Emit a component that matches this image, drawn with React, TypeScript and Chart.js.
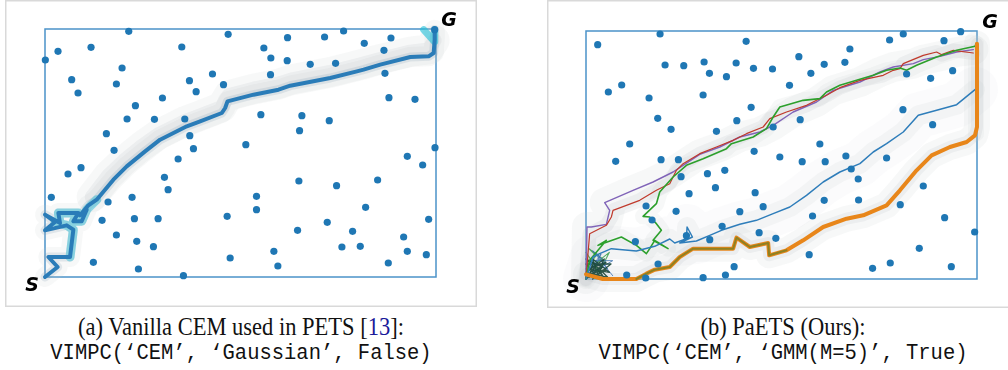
import React, { useEffect, useRef } from "react";
import { Chart, registerables } from "chart.js";

Chart.register(...registerables);

type P = [number, number];

// Environment extent (arbitrary planning units)
const ENV_X_MAX = 117.2;
const ENV_Y_MAX = 74.4;

// ---------- Panel (a): Vanilla CEM ----------
const obstaclesA: P[] = [
  [25.1, 73.7], [54.9, 72.8], [72.7, 71.8], [83.8, 72.0], [89.5, 73.8], [103.7, 71.7], [95.7, 70.1],
  [101.6, 68.0], [116.8, 74.2], [3.9, 67.7], [0.1, 65.1], [13.8, 68.9], [41.0, 69.0], [65.6, 68.7],
  [67.7, 65.7], [72.6, 64.9], [79.5, 63.8], [87.1, 64.1], [23.1, 62.7], [8.0, 59.2], [9.9, 55.2],
  [21.4, 57.9], [43.3, 58.9], [50.2, 60.9], [45.3, 55.6], [53.5, 57.7], [67.6, 60.7], [101.9, 61.1],
  [35.2, 53.7], [27.1, 51.4], [103.1, 53.8], [110.9, 53.3], [24.6, 47.4], [32.8, 47.3], [41.9, 47.4],
  [64.7, 48.7], [77.0, 48.4], [85.2, 46.9], [76.3, 43.9], [18.4, 43.0], [43.4, 42.4], [20.7, 38.0],
  [44.5, 38.5], [60.2, 39.7], [39.9, 35.4], [116.9, 38.8], [108.6, 36.2], [113.2, 33.6], [10.8, 32.8],
  [6.9, 30.9], [35.8, 29.9], [36.9, 26.2], [76.1, 28.8], [87.4, 27.4], [99.7, 29.1], [1.9, 23.9],
  [18.9, 22.5], [26.1, 23.9], [63.4, 24.2], [63.4, 20.2], [96.1, 20.9], [17.1, 17.0], [26.8, 17.5],
  [33.9, 17.5], [54.6, 18.2], [115.0, 17.3], [75.7, 14.0], [84.6, 16.4], [92.2, 13.7], [21.4, 12.6],
  [27.5, 10.7], [32.5, 9.1], [107.5, 12.0], [89.0, 9.0], [94.5, 9.2], [108.6, 7.7], [68.6, 7.7],
  [55.5, 5.7], [14.5, 4.4], [114.3, 6.7], [102.9, 4.2], [69.8, 3.3], [28.0, 2.4], [41.5, 0.4],
];

const cemPathA: P[] = [
  [0, 0], [3.8, 3.0], [1.0, 6.0], [7.5, 6.0], [8.5, 14.2], [6.5, 15.5], [0, 14.0], [3.0, 16.5],
  [0, 18.7], [4.5, 16.2], [4.0, 19.2], [10, 19.2], [8.5, 16.7], [11, 16.7], [12.5, 20.2], [10.5, 18.5],
  [13, 21.5], [15.5, 23.2], [20.5, 29.2], [24.5, 33.2], [30, 37.7], [34.5, 41.2], [42.5, 45.2],
  [46.5, 46.7], [53, 49.2], [54, 50.7], [54.7, 52.7], [62.5, 54.7], [70, 56.2], [73.5, 57.4],
  [85.5, 59.7], [93.5, 61.7], [95.5, 62.2], [100.5, 63.7], [109.5, 66.0], [115, 66.2], [116.5, 67.2],
  [116.8, 71.2], [116.8, 74.2],
];

// sampled-trajectory fog, sitting slightly above the executed path
const cemFogA: P[] = [
  [14, 24], [19, 30.5], [23.5, 34.8], [29, 39.3], [34, 42.8], [42, 46.8], [46, 48.3], [53, 51],
  [55, 54.5], [62.5, 56.5], [70, 58], [74, 59.3], [85.5, 61.5], [93.5, 63.5], [100.5, 65.4],
  [109.5, 67.6], [115, 68.3], [116.8, 71],
];

const cemStartGlowA: P[] = [
  [7.5, 6.0], [8.5, 14.2], [6.5, 15.5], [3.0, 16.5], [4.5, 16.2], [4.0, 19.2], [10, 19.2], [8.5, 16.7],
  [11, 16.7], [12.5, 20.2], [15.5, 23.2],
];
const cemGoalGlowA: P[] = [[113.5, 74.2], [116.8, 70.5], [116.8, 74.2]];

// ---------- Panel (b): PaETS ----------
const obstaclesB: P[] = [
  [22.2, 73.5], [48.0, 71.3], [3.5, 70.3], [91.0, 71.7], [95.1, 73.5], [107.3, 71.5], [112.3, 74.2],
  [79.1, 69.0], [63.8, 66.7], [23.7, 64.2], [29.3, 64.0], [35.4, 65.1], [37.0, 61.7], [42.1, 60.7],
  [45.0, 64.8], [50.2, 63.2], [55.9, 63.0], [71.4, 64.4], [77.6, 65.0], [67.4, 61.7], [96.1, 61.5],
  [103.3, 60.2], [109.9, 62.5], [10.7, 58.2], [6.7, 56.1], [18.9, 54.3], [35.1, 55.2], [61.0, 58.1],
  [49.5, 51.5], [21.5, 48.2], [25.5, 44.9], [45.2, 47.5], [56.1, 45.6], [64.2, 47.8], [95.0, 50.8],
  [103.9, 46.3], [39.1, 44.3], [13.1, 40.5], [70.1, 40.5], [50.4, 38.3], [8.9, 35.3], [22.5, 35.8],
  [27.7, 35.8], [58.1, 36.6], [64.8, 35.2], [71.7, 35.2], [77.9, 36.9], [90.1, 36.3], [79.5, 33.0],
  [81.6, 30.0], [28.5, 30.7], [36.4, 31.6], [41.6, 32.6], [38.8, 27.4], [30.9, 25.6], [50.7, 25.9],
  [101.1, 27.9], [18.0, 21.9], [27.0, 20.3], [46.1, 20.2], [53.1, 21.7], [71.4, 23.6], [81.7, 23.7],
  [94.2, 22.3], [19.8, 17.7], [67.9, 18.9], [107.5, 18.4], [40.8, 15.8], [51.9, 13.9], [56.9, 12.2],
  [37.1, 11.8], [30.1, 13.0], [14.8, 11.2], [116.5, 14.1], [99.9, 9.2], [66.9, 7.3], [21.6, 4.5],
  [44.4, 3.7], [85.9, 3.2], [91.2, 4.8], [109.5, 3.7], [12.2, 1.2], [17.9, 0.3], [35.1, 0.4], [41.8, 1.2],
];

const orangePathB: P[] = [
  [0, 1.4], [5, 0], [8.6, 0], [15.1, 0], [18.1, 1.6], [20.6, 2.8], [25.1, 3.6], [28.1, 6.6], [32.1, 9.1],
  [44.1, 9.1], [45.1, 12.4], [49.1, 9.6], [54.6, 10.8], [54.9, 7.1], [60.1, 8.6], [65.1, 11.6],
  [71.1, 15.6], [78.1, 18.1], [83.1, 19.1], [90.1, 22.1], [94.1, 26.6], [99.1, 32.6], [103.6, 37.1],
  [109.1, 39.6], [114.1, 41.1], [116.6, 43.1], [117.2, 45.6], [117.2, 70.6],
];
const oliveOverlayB: P[] = [
  [15.1, 0], [18.1, 1.6], [20.6, 2.8], [25.1, 3.6], [28.1, 6.6], [32.1, 9.1], [44.1, 9.1], [45.1, 12.4],
  [49.1, 9.6], [54.6, 10.8], [54.9, 7.1], [60.1, 8.6],
];

const bluePathB: P[] = [
  [0, 0], [2.1, 6.6], [4.1, 7.6], [7.6, 9.1], [15.1, 8.4], [20.6, 9.8], [25.1, 12.0], [26.6, 10.8],
  [30.1, 12.1], [30.3, 15.6], [31.9, 12.6], [28.1, 10.8], [33.1, 11.4], [37.1, 13.1], [40.6, 14.6],
  [46.1, 16.4], [51.1, 17.6], [56.1, 19.6], [61.1, 21.6], [66.1, 25.1], [71.1, 29.1], [76.1, 32.1],
  [82.1, 34.6], [86.1, 38.1], [90.1, 40.6], [95.1, 44.1], [99.6, 49.1], [105.1, 50.6], [111.1, 52.3],
  [116.6, 56.8],
];

const greenPathB: P[] = [
  [0, 0], [1.1, 5.6], [6.1, 11.6], [3.6, 10.1], [10.6, 12.6], [15.1, 10.1], [18.1, 7.6], [19.1, 9.1],
  [20.6, 11.6], [24.6, 9.1], [20.1, 11.6], [22.6, 14.6], [21.1, 16.6], [19.1, 18.6], [17.1, 18.8],
  [21.1, 22.6], [22.1, 26.1], [26.1, 30.6], [30.1, 34.1], [35.1, 36.1], [42.1, 39.1], [43.6, 40.6],
  [50.1, 42.6], [54.1, 45.1], [56.1, 48.6], [58.1, 51.6], [65.1, 53.6], [70.1, 54.1], [72.1, 56.1],
  [76.1, 58.1], [81.1, 59.6], [86.1, 61.1], [90.1, 62.6], [94.1, 63.3], [96.1, 62.6], [99.1, 64.1],
  [105.1, 66.6], [111.1, 68.6], [116.6, 69.8], [116.9, 70.6], [116.9, 43.6],
];

const redPathB: P[] = [
  [0, 0], [0.6, 7.6], [1.1, 13.6], [6.1, 16.1], [7.6, 18.6], [8.1, 20.6], [16.1, 23.6], [21.1, 26.6],
  [25.1, 28.6], [27.1, 32.6], [29.1, 34.6], [34.1, 37.6], [39.1, 39.6], [44.1, 41.6], [48.1, 43.6],
  [53.1, 45.6], [55.1, 48.1], [60.1, 50.1], [66.1, 52.1], [72.1, 55.1], [76.1, 57.4], [82.1, 59.6],
  [89.1, 61.1], [92.1, 62.6], [94.1, 63.1], [95.1, 64.6], [101.1, 67.1], [105.1, 68.1], [106.6, 67.3],
  [110.1, 68.6], [116.1, 67.8],
];

const purplePathB: P[] = [
  [0, 0], [0.3, 15.6], [1.6, 15.6], [6.1, 16.4], [7.1, 20.6], [5.6, 22.9], [14.1, 26.6], [20.1, 29.1],
  [26.1, 32.1], [29.1, 34.1], [34.1, 37.4], [40.1, 39.6], [46.1, 42.6], [52.1, 44.1], [56.1, 46.1],
  [62.1, 50.1], [69.1, 53.1], [74.1, 56.6], [82.1, 59.1], [88.1, 62.1], [92.1, 63.6], [98.1, 64.6],
  [101.1, 65.8], [106.1, 66.8], [111.1, 68.1], [116.1, 68.8],
];

const scribbleDarkB: P[] = [
  [0, 0], [6, 5], [1, 3], [7, 2], [2, 6], [4, 0], [0, 4.5], [7.5, 4.5], [3, 1], [5.5, 6], [0, 2], [6.5, 0.5],
  [2, 5], [1, 0.5], [5, 3.5], [0, 6], [5, 1], [3, 4], [1, 1.5], [6, 3], [2, 0],
];
const scribbleBlueB: P[] = [
  [0, 1], [4.5, 7.5], [2, 2], [8, 5.5], [1, 5.5], [6.5, 3], [3, 8], [0, 3], [6, 5], [2, 8.5], [8, 1],
];
const scribbleGreenB: P[] = [
  [0, 3], [3, 7], [1, 9], [5, 6], [2, 4], [7, 8], [4, 2], [0, 8],
];

const toXY = (pts: P[]) => pts.map(([x, y]) => ({ x, y }));

function lineDs(pts: P[], color: string, width: number, order: number) {
  return {
    data: toXY(pts),
    showLine: true,
    borderColor: color,
    backgroundColor: "transparent",
    borderWidth: width,
    pointRadius: 0,
    pointHoverRadius: 0,
    tension: 0,
    fill: false,
    clip: false as any,
    borderJoinStyle: "round" as const,
    borderCapStyle: "round" as const,
    order,
  };
}

function dotsDs(pts: P[]) {
  return {
    data: toXY(pts),
    showLine: false,
    pointRadius: 3.6,
    pointBorderWidth: 0,
    pointBackgroundColor: "#1f77b4",
    backgroundColor: "#1f77b4",
    borderWidth: 0,
    clip: false as any,
    order: 0,
  };
}

const framePlugin = {
  id: "frame",
  beforeDraw(chart: any) {
    const { ctx, width, height } = chart;
    const o = chart.options.plugins.frame || {};
    ctx.save();
    ctx.fillStyle = "#ffffff";
    ctx.fillRect(0, 0, width, height);
    ctx.strokeStyle = "#d9d9d9";
    ctx.lineWidth = 1.5;
    ctx.strokeRect(0.75, 0.75, width - 1.5 + (o.openRight ? 20 : 0), height - 1.5);
    ctx.restore();
  },
  beforeDatasetsDraw(chart: any) {
    const { ctx, chartArea: a } = chart;
    ctx.save();
    ctx.strokeStyle = "#4b93c9";
    ctx.lineWidth = 1.5;
    ctx.strokeRect(a.left, a.top, a.right - a.left, a.bottom - a.top);
    ctx.restore();
  },
  afterDraw(chart: any) {
    const { ctx, chartArea: a } = chart;
    ctx.save();
    ctx.fillStyle = "#000000";
    ctx.font = 'italic bold 19px "DejaVu Sans"';
    ctx.textAlign = "center";
    ctx.textBaseline = "middle";
    ctx.fillText("S", a.left - 13, a.bottom + 9);
    ctx.fillText("G", a.right + 13, a.top - 8);
    ctx.restore();
  },
};

function Panel(props: {
  left: number;
  width: number;
  height: number;
  padding: { left: number; right: number; top: number; bottom: number };
  datasets: any[];
  openRight?: boolean;
}) {
  const ref = useRef<HTMLCanvasElement | null>(null);
  useEffect(() => {
    if (!ref.current) return;
    const chart = new Chart(ref.current, {
      type: "scatter",
      data: { datasets: props.datasets },
      options: {
        animation: false,
        responsive: false,
        devicePixelRatio: 1,
        events: [],
        layout: { padding: props.padding },
        plugins: {
          legend: { display: false },
          tooltip: { enabled: false },
          frame: { openRight: !!props.openRight },
        } as any,
        scales: {
          x: { type: "linear", min: 0, max: ENV_X_MAX, display: false },
          y: { type: "linear", min: 0, max: ENV_Y_MAX, display: false },
        },
      },
      plugins: [framePlugin as any],
    });
    return () => chart.destroy();
  }, []);
  return (
    <canvas
      ref={ref}
      width={props.width}
      height={props.height}
      style={{ position: "absolute", left: props.left, top: 0, width: props.width, height: props.height }}
    />
  );
}

const fog1 = "rgba(195,200,203,0.13)";
const fog2 = "rgba(170,180,186,0.14)";
const fog3 = "rgba(120,150,170,0.18)";

const datasetsA = [
  dotsDs(obstaclesA),
  lineDs(cemPathA, "#2a7cb8", 4, 1),
  lineDs(cemStartGlowA, "rgba(30,185,210,0.45)", 9, 2),
  lineDs(cemGoalGlowA, "rgba(30,190,215,0.6)", 7, 2),
  lineDs(cemPathA, fog3, 9, 3),
  lineDs(cemFogA, fog2, 14, 4),
  lineDs(cemPathA, fog1, 20, 5),
  lineDs(cemFogA, fog1, 30, 5),
];

const datasetsB = [
  dotsDs(obstaclesB),
  lineDs(oliveOverlayB, "rgba(70,125,40,0.55)", 2, 1),
  lineDs(orangePathB, "#e8861a", 4, 2),
  lineDs(bluePathB, "#2e7dba", 1.5, 3),
  lineDs(greenPathB, "#2ca02c", 1.6, 3),
  lineDs(redPathB, "#c0392b", 1.2, 3),
  lineDs(purplePathB, "#8064b8", 1.4, 3),
  lineDs(scribbleDarkB, "rgba(25,70,55,0.9)", 1.3, 3),
  lineDs(scribbleBlueB, "rgba(58,111,176,0.8)", 1, 3),
  lineDs(scribbleGreenB, "rgba(42,154,64,0.8)", 1.1, 3),
  lineDs(orangePathB, fog2, 12, 6),
  lineDs(orangePathB, fog1, 26, 7),
  lineDs(bluePathB, fog1, 20, 7),
  lineDs(bluePathB, "rgba(200,205,208,0.07)", 46, 8),
  lineDs(redPathB, fog2, 14, 6),
  lineDs(purplePathB, fog1, 30, 7),
  lineDs(greenPathB, fog1, 16, 7),
];

const serif = '"Liberation Serif", "Times New Roman", serif';
const mono = '"Liberation Mono", "DejaVu Sans Mono", monospace';

function Caption(props: { center: number; line1: React.ReactNode; line2: string }) {
  return (
    <div
      style={{
        position: "absolute",
        left: props.center - 260,
        width: 520,
        top: 314,
        textAlign: "center",
        color: "#111",
        whiteSpace: "nowrap",
      }}
    >
      <div
        style={{
          fontFamily: serif,
          fontSize: 22.5,
          lineHeight: "26px",
          height: 28,
          transform: "scaleY(1.1)",
        }}
      >
        {props.line1}
      </div>
      <div
        style={{
          fontFamily: mono,
          fontSize: 20.5,
          lineHeight: "24px",
          height: 24,
          transform: "scaleY(1.1)",
        }}
      >
        {props.line2}
      </div>
    </div>
  );
}

export default function App() {
  return (
    <div
      style={{
        position: "absolute",
        left: 0,
        top: 0,
        width: 1008,
        height: 370,
        background: "#ffffff",
        overflow: "hidden",
      }}
    >
      <Panel
        left={5}
        width={472}
        height={307}
        padding={{ left: 40, right: 41, top: 29, bottom: 30 }}
        datasets={datasetsA}
      />
      <Panel
        left={547}
        width={461}
        height={308}
        padding={{ left: 39, right: 31, top: 31, bottom: 29 }}
        datasets={datasetsB}
        openRight
      />
      <Caption
        center={241}
        line1={
          <span>
            (a) Vanilla CEM used in PETS [<span style={{ color: "#1a1a9a" }}>13</span>]:
          </span>
        }
        line2={"VIMPC(‘CEM’, ‘Gaussian’, False)"}
      />
      <Caption center={783} line1={<span>(b) PaETS (Ours):</span>} line2={"VIMPC(‘CEM’, ‘GMM(M=5)’, True)"} />
    </div>
  );
}
